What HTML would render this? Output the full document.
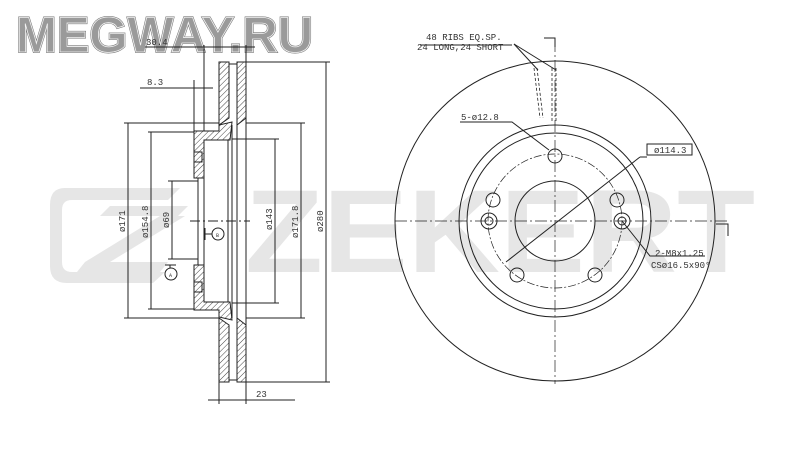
<!DOCTYPE html>
<html><head><meta charset="utf-8"><style>
html,body{margin:0;padding:0;background:#fff;}
svg{display:block;}
text{font-family:"Liberation Mono",monospace;fill:#333;}
</style></head><body>
<svg width="800" height="450" viewBox="0 0 800 450" xmlns="http://www.w3.org/2000/svg">
<defs>
<pattern id="h" width="4" height="4" patternUnits="userSpaceOnUse" patternTransform="rotate(45)">
<rect width="4" height="4" fill="#fff"/><line x1="0" y1="0" x2="0" y2="4" stroke="#444" stroke-width="1"/>
</pattern>
</defs>
<rect width="800" height="450" fill="#fff"/>
<!-- watermark -->
<g fill="#e6e6e6">
<path d="M65,188 H180 L168,200 H72 Q62,200 62,210 V262 Q62,272 72,272 H165 L153,283 H67 Q50,283 50,266 V205 Q50,188 65,188Z"/>
<polygon points="110,206 188,206 178,216 100,216"/>
<polygon points="160,216 185,216 110,262 85,262"/>
<polygon points="85,262 168,262 160,272 77,272"/>
<text x="245" y="272" textLength="510" lengthAdjust="spacingAndGlyphs" style="fill:#e6e6e6;font-family:'Liberation Sans',sans-serif;font-weight:bold;font-size:118px">ZEKERT</text>
</g>
<!-- MEGWAY.RU -->
<text x="16" y="52" textLength="297" lengthAdjust="spacingAndGlyphs" style="font-family:'Liberation Sans',sans-serif;font-weight:bold;font-size:50px;fill:#9a9a9a;stroke:#777;stroke-width:2;paint-order:stroke">MEGWAY.RU</text>
<text x="16" y="52" textLength="297" lengthAdjust="spacingAndGlyphs" style="font-family:'Liberation Sans',sans-serif;font-weight:bold;font-size:50px;fill:none;stroke:#f4f4f4;stroke-width:0.8">MEGWAY.RU</text>

<g stroke="#222" stroke-width="1" fill="none">
<path d="M219,62 H229 V118 L219,125 Z" fill="url(#h)"/>
<path d="M237,62 H246 V118 L237,125 Z" fill="url(#h)"/>
<path d="M219,318 L229,325 V382 H219 Z" fill="url(#h)"/>
<path d="M237,318 L246,325 V382 H237 Z" fill="url(#h)"/>
<line x1="229" y1="64" x2="237" y2="64"/><line x1="229" y1="380" x2="237" y2="380"/>
<path d="M194,131 H219 V125 L232,122 L230,140 H204 V178 H194 Z" fill="url(#h)"/>
<path d="M194,265 H204 V302 H230 L232,320 L219,317 V310 H194 Z" fill="url(#h)"/>
<rect x="194" y="152" width="8" height="10"/>
<rect x="194" y="282" width="8" height="10"/>
<line x1="204" y1="140" x2="204" y2="302"/>
<line x1="228" y1="140" x2="228" y2="302"/>
<line x1="232" y1="125" x2="232" y2="318"/>
<line x1="237" y1="125" x2="237" y2="318"/>
<line x1="246" y1="118" x2="246" y2="325"/>
<line x1="198" y1="178" x2="198" y2="265"/>
<line x1="190" y1="221" x2="250" y2="221" stroke-dasharray="10,3,2,3"/>
<line x1="205" y1="228" x2="205" y2="240"/><line x1="205" y1="234" x2="212" y2="234"/>
<circle cx="218" cy="234" r="6"/>
<line x1="165" y1="265" x2="176" y2="265"/><line x1="170" y1="265" x2="170" y2="268"/>
<circle cx="171" cy="274" r="6"/>
<line x1="246" y1="62" x2="330" y2="62"/><line x1="246" y1="382" x2="330" y2="382"/>
<line x1="326" y1="62" x2="326" y2="382"/>
<line x1="246" y1="123" x2="305" y2="123"/><line x1="246" y1="318" x2="305" y2="318"/>
<line x1="301" y1="123" x2="301" y2="318"/>
<line x1="232" y1="139" x2="279" y2="139"/><line x1="232" y1="303" x2="279" y2="303"/>
<line x1="275" y1="139" x2="275" y2="303"/>
<line x1="124" y1="123" x2="219" y2="123"/><line x1="124" y1="318" x2="219" y2="318"/>
<line x1="128" y1="123" x2="128" y2="318"/>
<line x1="148" y1="132" x2="194" y2="132"/><line x1="148" y1="309" x2="194" y2="309"/>
<line x1="151" y1="132" x2="151" y2="309"/>
<line x1="168" y1="181" x2="198" y2="181"/><line x1="168" y1="259" x2="198" y2="259"/>
<line x1="172" y1="181" x2="172" y2="259"/>
<line x1="219" y1="382" x2="219" y2="404"/><line x1="246" y1="382" x2="246" y2="404"/>
<line x1="208" y1="400" x2="295" y2="400"/>
<line x1="140" y1="88" x2="213" y2="88"/>
<line x1="194" y1="80" x2="194" y2="131"/><line x1="204" y1="45" x2="204" y2="131"/>
<line x1="145" y1="47" x2="255" y2="47"/><line x1="246" y1="45" x2="246" y2="62"/>
</g>
<g font-size="9">
<text x="147" y="85">8.3</text>
<text x="146" y="45">30.4</text>
<text x="256" y="397">23</text>
<text transform="translate(323,232) rotate(-90)">ø280</text>
<text transform="translate(298,238) rotate(-90)">ø171.8</text>
<text transform="translate(272,230) rotate(-90)">ø143</text>
<text transform="translate(125,232) rotate(-90)">ø171</text>
<text transform="translate(148,238) rotate(-90)">ø154.8</text>
<text transform="translate(169,228) rotate(-90)">ø69</text>
<text x="216" y="237" font-size="5">B</text>
<text x="169" y="277" font-size="5">A</text>
</g>

<g stroke="#222" stroke-width="1" fill="none">
<circle cx="555" cy="221" r="160"/>
<circle cx="555" cy="221" r="96"/>
<circle cx="555" cy="221" r="88"/>
<circle cx="555" cy="221" r="40"/>
<circle cx="555" cy="221" r="67" stroke-dasharray="8,2,2,2" stroke-width="0.7"/>
<line x1="395" y1="221" x2="728" y2="221" stroke-dasharray="12,3,2,3" stroke-width="0.7"/>
<line x1="555" y1="40" x2="555" y2="384" stroke-dasharray="12,3,2,3" stroke-width="0.7"/>
<polyline points="544,38 555,38 555,47"/>
<polyline points="716,224 728,224 728,236"/>
<circle cx="555" cy="156" r="7"/>
<circle cx="617" cy="200" r="7"/><circle cx="493" cy="200" r="7"/>
<circle cx="517" cy="275" r="7"/><circle cx="595" cy="275" r="7"/>
<circle cx="489" cy="221" r="8"/><circle cx="489" cy="221" r="4"/>
<circle cx="622" cy="221" r="8"/><circle cx="622" cy="221" r="4"/>
<line x1="506" y1="262" x2="640" y2="157"/>
<line x1="640" y1="157" x2="647" y2="157"/>
<rect x="647" y="144" width="45" height="11"/>
<polyline points="460,122 512,122 549,150"/>
<polyline points="622,221 650,256 705,256"/>
<line x1="420" y1="45" x2="512" y2="45"/>
<line x1="514" y1="44" x2="538" y2="70"/><line x1="514" y1="44" x2="556" y2="70"/>
<path d="M534,68 L540,118 M537,68 L543,118 M552,68 V122 M556,68 V122" stroke-dasharray="3,2" stroke-width="0.8"/>
</g>
<g font-size="9">
<text x="426" y="40">48 RIBS EQ.SP.</text>
<text x="417" y="50">24 LONG,24 SHORT</text>
<text x="461" y="120">5-ø12.8</text>
<text x="654" y="153">ø114.3</text>
<text x="655" y="256">2-M8x1.25</text>
<text x="651" y="268">CSø16.5x90°</text>
</g>
</svg>
</body></html>
